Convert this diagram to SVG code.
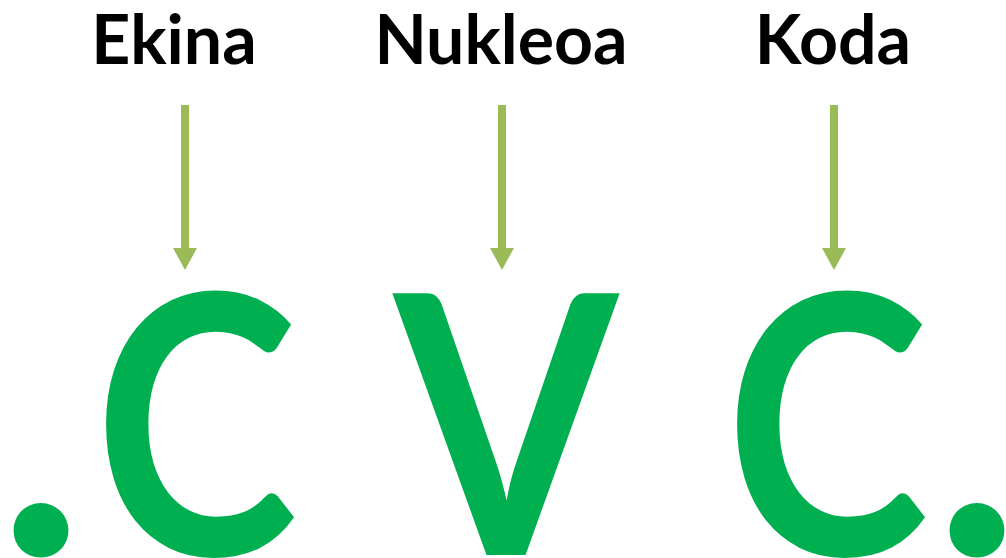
<svg xmlns="http://www.w3.org/2000/svg" width="1006" height="558" viewBox="0 0 1006 558">
<style>
.lbl{font-family:Lato,"Liberation Sans",sans-serif;font-weight:bold;font-size:68px;fill:#000;text-anchor:middle}
.big{font-family:Lato,"Liberation Sans",sans-serif;font-weight:bold;font-size:362px;fill:#00B050;text-anchor:middle}
.arr{fill:#9BBB59}
</style>
<rect width="1006" height="558" fill="#fff"/>
<g id="label-ekina"><text class="lbl" x="174" y="64">Ekina</text></g>
<g id="label-nukleoa"><text class="lbl" x="501" y="64">Nukleoa</text></g>
<g id="label-koda"><text class="lbl" x="833" y="64">Koda</text></g>
<g id="connectors">
<path class="arr" d="M181 105H189V248H197L185 270L173 248H181Z"/>
<path class="arr" d="M498 105H506V248H514L502 270L490 248H498Z"/>
<path class="arr" d="M830 105H838V248H846L834 270L822 248H830Z"/>
</g>
<g id="syllable">
<text class="big" x="41" y="555">.</text>
<text class="big" x="0" y="555" transform="translate(196 0) scale(0.85 1)">C</text>
<text class="big" x="0" y="555" transform="translate(506 0) scale(0.89 1)">V</text>
<text class="big" x="0" y="555" transform="translate(827 0) scale(0.85 1)">C</text>
<text class="big" x="977" y="555">.</text>
</g>
</svg>
